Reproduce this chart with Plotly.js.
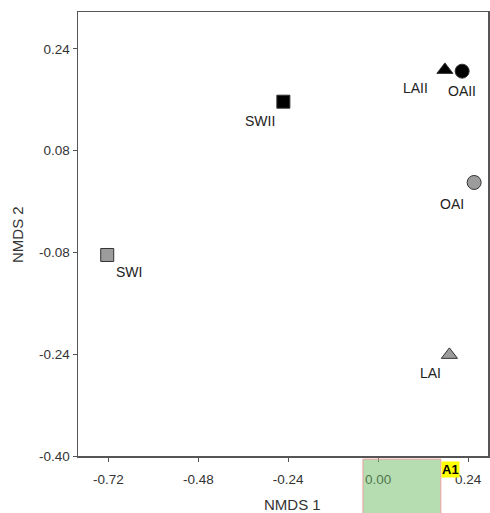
<!DOCTYPE html>
<html>
<head>
<meta charset="utf-8">
<script src="https://cdn.plot.ly/plotly-3.0.1.min.js"></script>
<style>html,body{margin:0;padding:0;background:#fff;}#chart{width:490px;height:513px;}</style>
</head>
<body>
<div id="chart"></div>
<script>
// Sample labels and NMDS coordinates
const labels = ["SWI", "SWII", "LAII", "OAII", "OAI", "LAI"];
const nmds1 = [-0.723, -0.253, 0.178, 0.224, 0.256, 0.190];
const nmds2 = [-0.084, 0.157, 0.207, 0.205, 0.030, -0.241];
const symbols = ["square", "square", "triangle-up", "circle", "circle", "triangle-up"];
const fills = ["#9c9c9c", "#000000", "#000000", "#000000", "#9c9c9c", "#9c9c9c"];
const sizes = [13, 13, 14, 14, 14, 14];
// label offsets (pixels)
const labelDx = [22, -23, -29, 0, -22, -19];
const labelDy = [-17, -19, -18, -20, -22, -18];

const xTicks = [-0.72, -0.48, -0.24, 0.00, 0.24];
const yTicks = [-0.40, -0.24, -0.08, 0.08, 0.24];

const FAM = "Liberation Sans, Arial, sans-serif";

const trace = {
  x: nmds1, y: nmds2, mode: "markers", type: "scatter",
  marker: {symbol: symbols, color: fills, size: sizes, opacity: 1,
           line: {color: "#333", width: 1}},
  hoverinfo: "skip"
};

const annotations = labels.map((t, i) => ({
  x: nmds1[i], y: nmds2[i], xref: "x", yref: "y", text: t, showarrow: false,
  xshift: labelDx[i], yshift: labelDy[i],
  font: {family: FAM, size: 14, color: "#222"}
}));
annotations.push({
  xref: "paper", yref: "paper", x: 0.524, y: -0.110, xanchor: "center", yanchor: "middle",
  text: "NMDS 1", showarrow: false, font: {family: FAM, size: 15, color: "#333"}
});
annotations.push({
  xref: "paper", yref: "paper", x: -0.146, y: 0.498, xanchor: "center", yanchor: "middle",
  text: "NMDS 2", textangle: -90, showarrow: false, font: {family: FAM, size: 15, color: "#333"}
});
annotations.push({
  xref: "paper", yref: "paper", x: 0.885, y: -0.012, xanchor: "left", yanchor: "top",
  text: "<b>A1</b>", showarrow: false, bgcolor: "#ffff00", borderpad: 0,
  font: {family: FAM, size: 13, color: "#000"}
});

const axisFont = {family: FAM, size: 13.5, color: "#333"};
const layout = {
  width: 490, height: 513,
  margin: {l: 78, r: 2, t: 12, b: 57},
  paper_bgcolor: "#fff", plot_bgcolor: "#fff",
  showlegend: false,
  xaxis: {
    range: [-0.801, 0.293], tickvals: xTicks, ticktext: xTicks.map(v => v.toFixed(2)),
    showgrid: false, zeroline: false, showline: true, mirror: true,
    linecolor: "#555", linewidth: 1.5, ticks: "outside", ticklen: 4, tickcolor: "#555",
    tickfont: axisFont, ticklabelstandoff: 6
  },
  yaxis: {
    range: [-0.40, 0.298], tickvals: yTicks, ticktext: yTicks.map(v => v.toFixed(2)),
    showgrid: false, zeroline: false, showline: true, mirror: true,
    linecolor: "#555", linewidth: 1.5, ticks: "outside", ticklen: 4, tickcolor: "#555",
    tickfont: axisFont
  },
  shapes: [{
    type: "rect", xref: "paper", yref: "paper", layer: "above",
    x0: 0.695, x1: 0.885, y0: -0.007, y1: -0.14,
    fillcolor: "rgba(110,185,100,0.5)", line: {color: "#f0a0a0", width: 1}
  }],
  annotations: annotations
};

Plotly.newPlot("chart", [trace], layout, {staticPlot: true, displayModeBar: false});
</script>
</body>
</html>
